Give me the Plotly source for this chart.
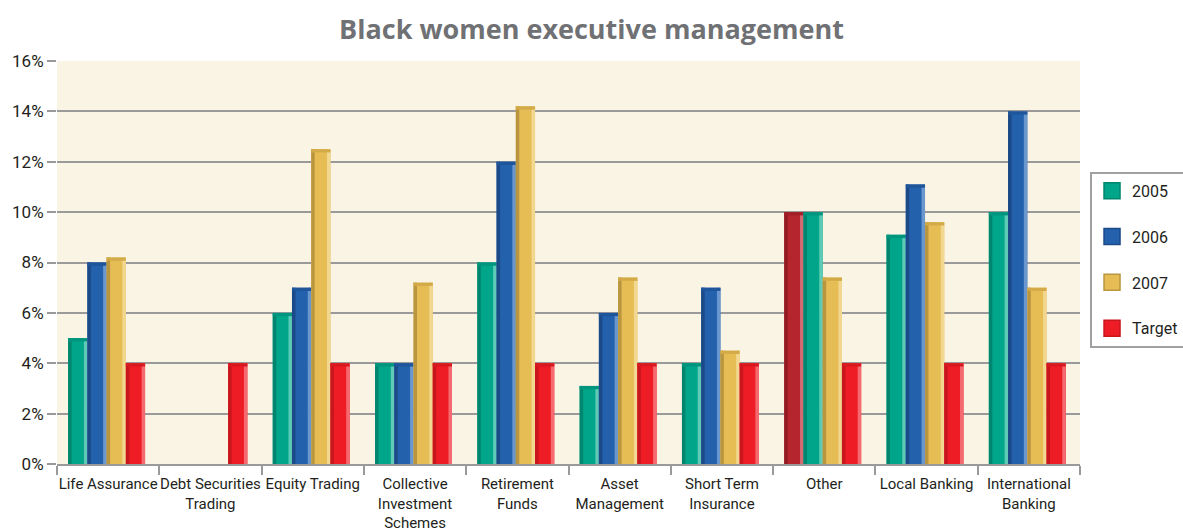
import plotly.graph_objects as go

# Sector labels (line breaks as printed under the axis)
categories = [
    "Life Assurance", "Debt Securities<br>Trading", "Equity Trading",
    "Collective<br>Investment<br>Schemes", "Retirement<br>Funds",
    "Asset<br>Management", "Short Term<br>Insurance", "Other",
    "Local Banking", "International<br>Banking",
]

# Share of black women in executive management (%)
y2005 = [5.0, 0, 6.0, 4.0, 8.0, 3.1, 4.0, 10.0, 9.1, 10.0]
y2006 = [8.0, 0, 7.0, 4.0, 12.0, 6.0, 7.0, 10.0, 11.1, 14.0]
y2007 = [8.2, 0, 12.5, 7.2, 14.2, 7.4, 4.5, 7.4, 9.6, 7.0]
target = [4.0, 4.0, 4.0, 4.0, 4.0, 4.0, 4.0, 4.0, 4.0, 4.0]

tick_values = [0, 2, 4, 6, 8, 10, 12, 14, 16]

# (base, dark edge, light edge, top cap) palettes
TEAL = ("#00a58a", "#00866f", "#5fcab6", "#00967d")
BLUE = ("#2361ac", "#1c4a88", "#6b97cf", "#1f559a")
GOLD = ("#e6bd55", "#b9953f", "#f1d78f", "#d3aa48")
RED = ("#ee1c25", "#c8161d", "#f56a70", "#d91920")
MAROON = ("#b4252e", "#921a22", "#d26870", "#a21f28")

# "Other" is printed with a maroon 2005 bar and a teal 2006 bar
series = [
    ("2005", y2005, [MAROON if c == "Other" else TEAL for c in categories], TEAL),
    ("2006", y2006, [TEAL if c == "Other" else BLUE for c in categories], BLUE),
    ("2007", y2007, [GOLD] * len(categories), GOLD),
    ("Target", target, [RED] * len(categories), RED),
]

BAR_W = 0.188
EDGE_W = 0.034
CAP_H = 0.13
group_start = -2 * BAR_W - 0.015

fig = go.Figure()
for i, (name, vals, pal, legend_pal) in enumerate(series):
    off = group_start + i * BAR_W
    shown = [v if v > 0 else None for v in vals]
    # main face
    fig.add_trace(go.Bar(
        x=categories, y=vals, name=name, offset=off, width=BAR_W,
        marker=dict(color=[p[0] for p in pal], line=dict(width=0)),
        legendgroup=name, showlegend=False, hoverinfo="skip",
    ))
    # left bevel (shadowed)
    fig.add_trace(go.Bar(
        x=categories, y=shown, offset=off, width=EDGE_W,
        marker=dict(color=[p[1] for p in pal], line=dict(width=0)),
        showlegend=False, hoverinfo="skip",
    ))
    # right bevel (highlight)
    fig.add_trace(go.Bar(
        x=categories, y=shown, offset=off + BAR_W - EDGE_W, width=EDGE_W,
        marker=dict(color=[p[2] for p in pal], line=dict(width=0)),
        showlegend=False, hoverinfo="skip",
    ))
    # top cap
    fig.add_trace(go.Bar(
        x=categories,
        y=[CAP_H if v > 0 else None for v in vals],
        base=[v - CAP_H if v > 0 else None for v in vals],
        offset=off, width=BAR_W,
        marker=dict(color=[p[3] for p in pal], line=dict(width=0)),
        showlegend=False, hoverinfo="skip",
    ))
    # legend swatch
    fig.add_trace(go.Scatter(
        x=[None], y=[None], mode="markers", name=name, legendgroup=name,
        marker=dict(symbol="square", size=16, color=legend_pal[0],
                    line=dict(color=legend_pal[1], width=1.5)),
    ))

font_family = "Liberation Sans Narrow, Roboto, Open Sans, sans-serif"

fig.update_layout(
    width=1183, height=532,
    barmode="overlay",
    paper_bgcolor="white",
    plot_bgcolor="#faf4e4",
    margin=dict(l=57, r=103, t=61, b=68, autoexpand=False),
    title=dict(
        text="<b>Black women executive management</b>",
        x=0.5, xanchor="center", y=0.945, yanchor="middle",
        font=dict(family="Open Sans, Lato, sans-serif", size=27, color="#707174"),
    ),
    font=dict(family=font_family, size=15, color="#231f20"),
    legend=dict(
        x=1.0098, xanchor="left", y=0.725, yanchor="top",
        bordercolor="#a0a0a0", borderwidth=2, bgcolor="white",
        tracegroupgap=22, itemsizing="trace",
        font=dict(family=font_family, size=16, color="#231f20"),
    ),
    xaxis=dict(
        type="category", tickson="boundaries", ticks="outside", ticklen=9,
        tickcolor="#9a9a9a", tickwidth=2, showline=True, linecolor="#9a9a9a",
        linewidth=2, showgrid=False, range=[-0.5, 9.5], tickangle=0,
        automargin=False, ticklabelstandoff=5,
        tickfont=dict(family=font_family, size=15, color="#231f20"),
    ),
    yaxis=dict(
        range=[0, 16], tickvals=tick_values,
        ticktext=[f"{v}%" for v in tick_values],
        ticks="outside", ticklen=9, tickcolor="#9a9a9a", tickwidth=2,
        showgrid=True, gridcolor="#9a9a9a", gridwidth=2, zeroline=False,
        automargin=False,
        tickfont=dict(family=font_family, size=17, color="#231f20"),
    ),
)

fig.write_html("out.html")
